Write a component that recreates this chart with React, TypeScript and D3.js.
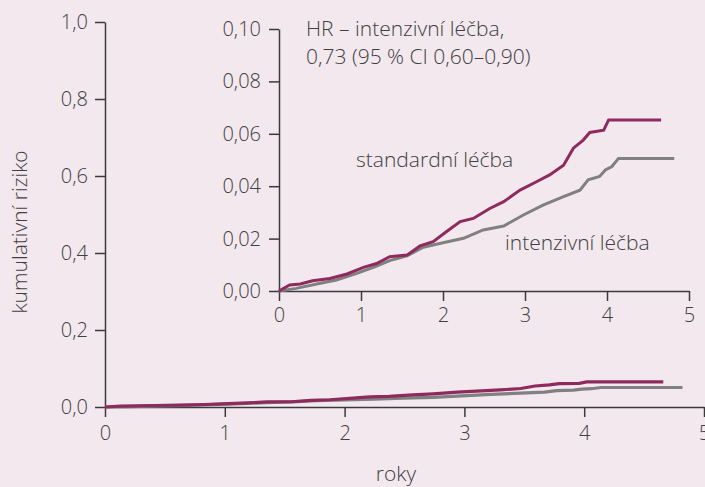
import * as d3 from 'd3'
import { useEffect, useRef } from 'react'

// kumulativní riziko, čteno z obrázku
const standardYears = [0, 0.13, 0.26, 0.41, 0.62, 0.83, 1.03, 1.19, 1.35, 1.56, 1.72, 1.88, 2.04, 2.21, 2.37, 2.57, 2.74, 2.94, 3.14, 3.3, 3.47, 3.59, 3.71, 3.79, 3.96, 4.02, 4.66]
const standardRisk = [0, 0.0023, 0.0027, 0.0039, 0.0048, 0.0065, 0.009, 0.0105, 0.0131, 0.0137, 0.0172, 0.0188, 0.0226, 0.0265, 0.0277, 0.0315, 0.0341, 0.0385, 0.0417, 0.0443, 0.048, 0.0545, 0.0576, 0.0605, 0.0614, 0.0653, 0.0653]

const intensiveYears = [0, 0.21, 0.46, 0.7, 0.95, 1.19, 1.35, 1.56, 1.76, 2.0, 2.25, 2.49, 2.74, 2.98, 3.22, 3.47, 3.67, 3.77, 3.91, 3.98, 4.06, 4.14, 4.82]
const intensiveRisk = [0, 0.001, 0.0027, 0.0042, 0.0067, 0.0095, 0.0116, 0.0134, 0.0167, 0.0184, 0.0201, 0.0233, 0.0248, 0.029, 0.0328, 0.036, 0.0385, 0.0424, 0.0437, 0.0462, 0.0475, 0.0506, 0.0506]

const xTicks = [0, 1, 2, 3, 4, 5]
const mainYTicks = [0, 0.2, 0.4, 0.6, 0.8, 1.0]
const insetYTicks = [0, 0.02, 0.04, 0.06, 0.08, 0.1]

const BG = '#f3e8ee'
const AXIS = '#3a3a3a'
const TEXT = '#404040'
const MAROON = '#8e2a5c'
const GRAY = '#808080'
const FONT = '"Open Sans", "Noto Sans", sans-serif'
const FS = 21
const TICK_FS = 20

const comma = (f: string) => (d: d3.NumberValue) => d3.format(f)(d).replace('.', ',')

export default function App() {
  const svgRef = useRef<SVGSVGElement | null>(null)

  useEffect(() => {
    if (!svgRef.current)
      return
    const svg = d3.select(svgRef.current)
    svg.selectAll('*').remove()

    svg.append('rect').attr('width', 705).attr('height', 487).attr('fill', BG)

    const std = standardYears.map((t, i) => [t, standardRisk[i]] as [number, number])
    const int = intensiveYears.map((t, i) => [t, intensiveRisk[i]] as [number, number])

    const styleAxis = (g: d3.Selection<SVGGElement, unknown, null, undefined>) => {
      g.select('.domain').attr('stroke', AXIS).attr('stroke-width', 1.5)
      g.selectAll('.tick line').attr('stroke', AXIS).attr('stroke-width', 1.5)
      g.selectAll('.tick text')
        .attr('fill', TEXT)
        .attr('font-family', FONT)
        .attr('font-weight', 300)
        .attr('font-size', TICK_FS)
    }

    // hlavní graf
    const x = d3.scaleLinear().domain([0, 5]).range([105, 704])
    const y = d3.scaleLinear().domain([0, 1]).range([407, 22])

    svg.append('g')
      .attr('transform', 'translate(0,407)')
      .call(d3.axisBottom(x).tickValues(xTicks).tickFormat(d3.format('d')).tickSize(10).tickSizeOuter(0).tickPadding(9))
      .call(styleAxis)

    svg.append('g')
      .attr('transform', 'translate(105,0)')
      .call(d3.axisLeft(y).tickValues(mainYTicks).tickFormat(comma('.1f')).tickSize(10).tickSizeOuter(0).tickPadding(7))
      .call(styleAxis)

    const mainLine = d3.line<[number, number]>().x(d => x(d[0])).y(d => y(d[1]))
    svg.append('path').attr('d', mainLine(int)).attr('fill', 'none').attr('stroke', GRAY).attr('stroke-width', 3.2)
    svg.append('path').attr('d', mainLine(std)).attr('fill', 'none').attr('stroke', MAROON).attr('stroke-width', 3.2)

    // vložený graf
    const xi = d3.scaleLinear().domain([0, 5]).range([279, 689])
    const yi = d3.scaleLinear().domain([0, 0.1]).range([291, 29])

    svg.append('g')
      .attr('transform', 'translate(0,291)')
      .call(d3.axisBottom(xi).tickValues(xTicks).tickFormat(d3.format('d')).tickSize(10).tickSizeOuter(0).tickPadding(7))
      .call(styleAxis)

    svg.append('g')
      .attr('transform', 'translate(279,0)')
      .call(d3.axisLeft(yi).tickValues(insetYTicks).tickFormat(comma('.2f')).tickSize(10).tickSizeOuter(0).tickPadding(8))
      .call(styleAxis)

    const insetLine = d3.line<[number, number]>().x(d => xi(d[0])).y(d => yi(d[1]))
    svg.append('path').attr('d', insetLine(int)).attr('fill', 'none').attr('stroke', GRAY).attr('stroke-width', 3)
    svg.append('path').attr('d', insetLine(std)).attr('fill', 'none').attr('stroke', MAROON).attr('stroke-width', 3)

    const label = (tx: number, ty: number, s: string, anchor = 'start') =>
      svg.append('text')
        .attr('x', tx).attr('y', ty)
        .attr('text-anchor', anchor)
        .attr('fill', TEXT)
        .attr('font-family', FONT)
        .attr('font-weight', 300)
        .attr('font-size', FS)
        .text(s)

    label(306, 36, 'HR – intenzivní léčba,')
    label(306, 64, '0,73 (95 % CI 0,60–0,90)')
    label(356, 167, 'standardní léčba')
    label(505, 250, 'intenzivní léčba')
    label(396, 481, 'roky', 'middle')
    label(0, 0, 'kumulativní riziko', 'middle').attr('transform', 'translate(27,232) rotate(-90)')
  }, [])

  return (
    <svg
      ref={svgRef}
      width={705}
      height={487}
      style={{ position: 'absolute', left: 0, top: 0, display: 'block' }}
    />
  )
}
